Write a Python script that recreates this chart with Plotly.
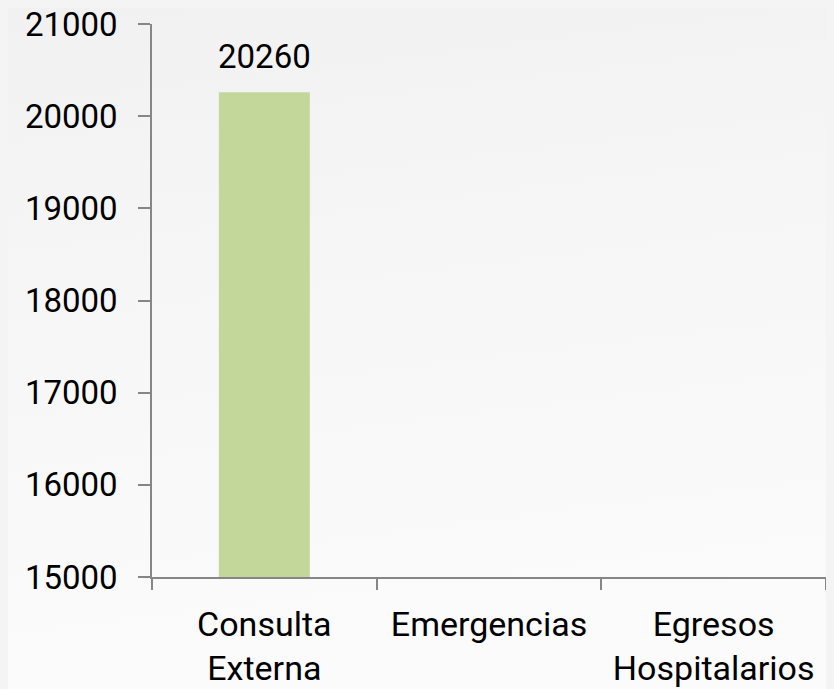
import base64
import plotly.graph_objects as go

categories = ["Consulta<br>Externa", "Emergencias", "Egresos<br>Hospitalarios"]
values = [20260, None, None]
y_ticks = [15000, 16000, 17000, 18000, 19000, 20000, 21000]

bar_color = "#c4d79b"
axis_color = "#868686"
font_family = "Roboto, Lato, Arial, sans-serif"

# the page body keeps an 8px default margin, so the figure sits at (8, 8)
W, H = 826, 681

svg = (
    f'<svg xmlns="http://www.w3.org/2000/svg" width="{W}" height="{H}">'
    '<defs><linearGradient id="g" x1="0" y1="0" x2="0.15" y2="1">'
    '<stop offset="0" stop-color="#f1f1f1"/><stop offset="0.5" stop-color="#f7f7f7"/>'
    '<stop offset="1" stop-color="#fbfbfb"/></linearGradient></defs>'
    f'<rect width="{W}" height="{H}" fill="url(#g)"/></svg>'
)
bg_uri = "data:image/svg+xml;base64," + base64.b64encode(svg.encode()).decode()

L, R, T, B = 144, 8, 16, 112
pw, ph = W - L - R, H - T - B

fig = go.Figure(
    go.Bar(
        x=categories,
        y=values,
        marker=dict(color=bar_color, line=dict(width=0)),
        width=0.405,
        cliponaxis=False,
        hoverinfo="x+y",
    )
)

annotations = [
    dict(
        x=c,
        y=v,
        xref="x",
        yref="y",
        text=str(v),
        showarrow=False,
        yanchor="bottom",
        yshift=14,
        font=dict(size=33, color="#000000", family=font_family),
    )
    for c, v in zip(categories, values)
    if v is not None
]

fig.update_layout(
    width=W,
    height=H,
    autosize=False,
    margin=dict(l=L, r=R, t=T, b=B),
    paper_bgcolor="#f6f6f6",
    plot_bgcolor="rgba(0,0,0,0)",
    showlegend=False,
    font=dict(family=font_family, color="#000000"),
    annotations=annotations,
    images=[
        dict(
            source=bg_uri,
            xref="paper",
            yref="paper",
            x=-L / pw,
            y=1 + T / ph,
            sizex=W / pw,
            sizey=H / ph,
            sizing="stretch",
            xanchor="left",
            yanchor="top",
            layer="below",
        )
    ],
)

fig.update_yaxes(
    range=[15000, 21000],
    tickvals=y_ticks,
    ticktext=[str(t) for t in y_ticks],
    showgrid=False,
    zeroline=False,
    showline=True,
    linecolor=axis_color,
    linewidth=1.5,
    ticks="outside",
    ticklen=12,
    tickcolor=axis_color,
    tickwidth=1.5,
    tickfont=dict(size=33, family=font_family, color="#000000"),
    ticklabelstandoff=14,
    ticklabeloverflow="allow",
    automargin=False,
)

fig.update_xaxes(
    showgrid=False,
    showline=True,
    linecolor=axis_color,
    linewidth=1.5,
    ticks="outside",
    tickson="boundaries",
    ticklen=11,
    tickcolor=axis_color,
    tickwidth=1.5,
    tickfont=dict(size=34, family=font_family, color="#000000"),
    ticklabelstandoff=16,
    ticklabeloverflow="allow",
    automargin=False,
)

fig.write_html(
    "out.html",
    config={"displayModeBar": False},
    post_script="document.body.style.background='#f4f4f4';",
)
